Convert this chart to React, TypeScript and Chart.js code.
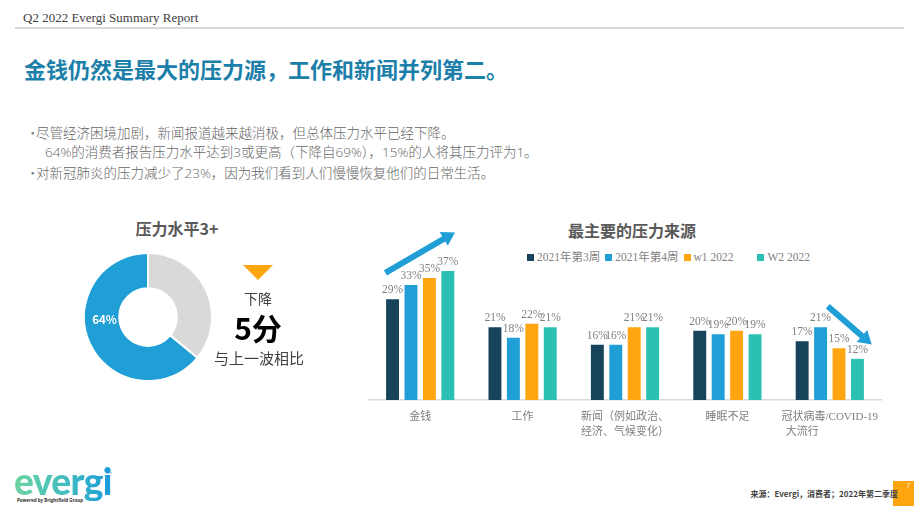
import React, { useEffect, useRef } from 'react';
import { Chart, registerables } from 'chart.js';

Chart.register(...registerables);

// ---------- data ----------
const categories: (string | string[])[] = [
  '金钱',
  '工作',
  ['新闻（例如政治、', '经济、气候变化）'],
  '睡眠不足',
  ['冠状病毒/COVID-19', '大流行　　　　　'],
];
const seriesNames = ['2021年第3周', '2021年第4周', 'w1 2022', 'W2 2022'];
const week3_2021 = [29, 21, 16, 20, 17];
const week4_2021 = [33, 18, 16, 19, 21];
const w1_2022 = [35, 22, 21, 20, 15];
const w2_2022 = [37, 21, 21, 19, 12];
const seriesValues = [week3_2021, week4_2021, w1_2022, w2_2022];
const seriesColors = ['#17435b', '#1f9fd6', '#ffa50f', '#2cc0b4'];

const donutLabels = ['其他', '压力水平3+'];
const donutValues = [36, 64];
const donutColors = ['#d9d9d9', '#1f9fd6'];

// trend arrows: x as fraction of category width from category centre, y in data units
const trendArrows = [
  { category: 0, from: [-0.34, 36.2], to: [0.34, 47.7] },
  { category: 4, from: [-0.02, 26.7], to: [0.41, 15.8] },
];

const bulletLines = [
  { dot: true, text: '尽管经济困境加剧，新闻报道越来越消极，但总体压力水平已经下降。' },
  { dot: false, text: '64%的消费者报告压力水平达到3或更高（下降自69%），15%的人将其压力评为1。' },
  { dot: true, text: '对新冠肺炎的压力减少了23%，因为我们看到人们慢慢恢复他们的日常生活。' },
];

const CJK = "'Noto Sans CJK SC', 'Noto Sans', sans-serif";
const SERIF_CJK = "'Liberation Serif', 'Noto Sans CJK SC', serif";
const BODY = "'Open Sans', 'Noto Sans CJK SC', sans-serif";

// ---------- plugins ----------
const barValueLabels = {
  id: 'barValueLabels',
  afterDatasetsDraw(chart: any) {
    const ctx = chart.ctx;
    ctx.save();
    ctx.font = `11.5px ${SERIF_CJK}`;
    ctx.fillStyle = '#808080';
    ctx.textAlign = 'center';
    ctx.textBaseline = 'alphabetic';
    chart.data.datasets.forEach((ds: any, di: number) => {
      const meta = chart.getDatasetMeta(di);
      meta.data.forEach((bar: any, i: number) => {
        ctx.fillText(ds.data[i] + '%', bar.x, bar.y - 5);
      });
    });
    ctx.restore();
  },
};

const trendArrowPlugin = {
  id: 'trendArrows',
  afterDatasetsDraw(chart: any) {
    const ctx = chart.ctx;
    const xs = chart.scales.x;
    const ys = chart.scales.y;
    const catW = xs.width / chart.data.labels.length;
    ctx.save();
    ctx.fillStyle = '#1f9fd6';
    trendArrows.forEach((a) => {
      const cx = xs.getPixelForValue(a.category);
      const x1 = cx + a.from[0] * catW;
      const y1 = ys.getPixelForValue(a.from[1]);
      const x2 = cx + a.to[0] * catW;
      const y2 = ys.getPixelForValue(a.to[1]);
      const ang = Math.atan2(y2 - y1, x2 - x1);
      const len = Math.hypot(x2 - x1, y2 - y1);
      const shaft = 3;
      const headL = 13;
      const headW = 8;
      ctx.save();
      ctx.translate(x1, y1);
      ctx.rotate(ang);
      ctx.beginPath();
      ctx.moveTo(0, -shaft);
      ctx.lineTo(len - headL, -shaft);
      ctx.lineTo(len - headL, -headW);
      ctx.lineTo(len, 0);
      ctx.lineTo(len - headL, headW);
      ctx.lineTo(len - headL, shaft);
      ctx.lineTo(0, shaft);
      ctx.closePath();
      ctx.fill();
      ctx.restore();
    });
    ctx.restore();
  },
};

const donutLabel = {
  id: 'donutLabel',
  afterDatasetsDraw(chart: any) {
    const ctx = chart.ctx;
    const arc = chart.getDatasetMeta(0).data[1];
    if (!arc) return;
    const r = (arc.innerRadius + arc.outerRadius) / 2;
    ctx.save();
    ctx.font = `bold 11.5px ${CJK}`;
    ctx.fillStyle = '#ffffff';
    ctx.textAlign = 'center';
    ctx.textBaseline = 'middle';
    ctx.fillText(donutValues[1] + '%', arc.x - r + 3, arc.y + 3);
    ctx.restore();
  },
};

// ---------- components ----------
function BarChart() {
  const ref = useRef<HTMLCanvasElement>(null);
  useEffect(() => {
    if (!ref.current) return;
    const chart = new Chart(ref.current, {
      type: 'bar',
      data: {
        labels: categories as any,
        datasets: seriesValues.map((vals, i) => ({
          label: seriesNames[i],
          data: vals,
          backgroundColor: seriesColors[i],
          borderColor: 'rgba(255,255,255,0.45)',
          borderWidth: 1,
          barPercentage: 0.81,
          categoryPercentage: 0.72,
        })),
      },
      options: {
        animation: false,
        responsive: false,
        maintainAspectRatio: false,
        layout: { padding: { top: 43, left: 14, right: 14, bottom: 4 } },
        plugins: {
          legend: { display: false },
          title: { display: false },
          tooltip: { enabled: false },
        },
        scales: {
          x: {
            grid: { display: false, drawTicks: false },
            border: { display: true, color: '#d9d9d9', width: 1.5 },
            ticks: {
              color: '#7f7f7f',
              font: { family: SERIF_CJK, size: 11, lineHeight: 1.36 },
              padding: 10,
              maxRotation: 0,
              autoSkip: false,
            },
          },
          y: { display: false, min: 0, max: 39 },
        },
      },
      plugins: [barValueLabels, trendArrowPlugin],
    });
    return () => chart.destroy();
  }, []);
  return (
    <canvas
      ref={ref}
      width={540}
      height={234}
      style={{ position: 'absolute', left: 355, top: 220, width: 540, height: 234 }}
    />
  );
}

function DonutChart() {
  const ref = useRef<HTMLCanvasElement>(null);
  useEffect(() => {
    if (!ref.current) return;
    const chart = new Chart(ref.current, {
      type: 'doughnut',
      data: {
        labels: donutLabels,
        datasets: [
          {
            data: donutValues,
            backgroundColor: donutColors,
            borderColor: '#ffffff',
            borderWidth: 2,
          },
        ],
      },
      options: {
        animation: false,
        responsive: false,
        maintainAspectRatio: false,
        cutout: '45%',
        rotation: 0,
        layout: { padding: 0 },
        plugins: { legend: { display: false }, tooltip: { enabled: false } },
      },
      plugins: [donutLabel],
    });
    return () => chart.destroy();
  }, []);
  return (
    <canvas
      ref={ref}
      width={130}
      height={130}
      style={{ position: 'absolute', left: 83, top: 252, width: 130, height: 130 }}
    />
  );
}

export default function App() {
  const abs = (s: React.CSSProperties): React.CSSProperties => ({ position: 'absolute', margin: 0, ...s });
  return (
    <div
      style={{
        position: 'fixed',
        left: 0,
        top: 0,
        width: 920,
        height: 518,
        background: '#ffffff',
        overflow: 'hidden',
        fontFamily: CJK,
      }}
    >
      {/* header */}
      <div
        style={abs({
          left: 23,
          top: 10,
          fontFamily: "'Liberation Serif', serif",
          fontSize: 13,
          color: '#404040',
          lineHeight: '16px',
          whiteSpace: 'nowrap',
        })}
      >
        Q2 2022 Evergi Summary Report
      </div>
      <div style={abs({ left: 15, top: 27, width: 889, height: 2, background: '#d9d9d9' })} />

      {/* title */}
      <div
        style={abs({
          left: 24,
          top: 54,
          fontSize: 22,
          fontWeight: 700,
          color: '#1c7faa',
          lineHeight: '28px',
          whiteSpace: 'nowrap',
        })}
      >
        金钱仍然是最大的压力源，工作和新闻并列第二。
      </div>

      {/* bullets */}
      <div style={abs({ left: 26, top: 122, fontFamily: BODY, fontSize: 13.5, color: '#666666' })}>
        {bulletLines.map((b, i) => (
          <div key={i} style={{ whiteSpace: 'nowrap', height: 20, lineHeight: '20px', fontWeight: 300 }}>
            <span style={{ display: 'inline-block', width: b.dot ? 10 : 19, color: '#7a7a7a', fontFamily: CJK }}>
              {b.dot ? '·' : ''}
            </span>
            {b.text}
          </div>
        ))}
      </div>

      {/* donut section */}
      <div
        style={abs({
          left: 77,
          width: 200,
          top: 217,
          textAlign: 'center',
          fontSize: 16,
          fontWeight: 700,
          color: '#595959',
          lineHeight: '22px',
        })}
      >
        压力水平3+
      </div>
      <DonutChart />
      <div
        style={abs({
          left: 243,
          top: 265,
          width: 0,
          height: 0,
          borderLeft: '15px solid transparent',
          borderRight: '15px solid transparent',
          borderTop: '15px solid #ffa50f',
        })}
      />
      <div style={abs({ left: 208, width: 100, top: 288, textAlign: 'center', fontSize: 14, color: '#404040', lineHeight: '20px' })}>
        下降
      </div>
      <div
        style={abs({ left: 208, width: 100, top: 308, textAlign: 'center', fontSize: 30, fontWeight: 700, color: '#000', lineHeight: '38px' })}
      >
        5分
      </div>
      <div style={abs({ left: 199, width: 120, top: 347, textAlign: 'center', fontSize: 15, color: '#404040', lineHeight: '22px' })}>
        与上一波相比
      </div>

      {/* bar chart section */}
      <div
        style={abs({
          left: 532,
          width: 200,
          top: 219,
          textAlign: 'center',
          fontSize: 16,
          fontWeight: 700,
          color: '#595959',
          lineHeight: '22px',
        })}
      >
        最主要的压力来源
      </div>
      <div
        style={abs({
          left: 527,
          top: 249,
          display: 'flex',
          alignItems: 'center',
          fontFamily: SERIF_CJK,
          fontSize: 11.5,
          color: '#7f7f7f',
          lineHeight: '16px',
          whiteSpace: 'nowrap',
        })}
      >
        {seriesNames.map((n, i) => (
          <div key={i} style={{ display: 'flex', alignItems: 'center', marginRight: i === 2 ? 24 : 5 }}>
            <span style={{ display: 'inline-block', width: 7, height: 7, background: seriesColors[i], marginRight: 3 }} />
            <span>{n}</span>
          </div>
        ))}
      </div>
      <BarChart />

      {/* logo */}
      <div
        style={abs({
          left: 14,
          top: 461,
          fontFamily: "'Lato', 'Noto Sans', sans-serif",
          fontWeight: 900,
          fontSize: 37,
          lineHeight: '40px',
          letterSpacing: -0.6,
          background: 'linear-gradient(90deg, #6dd3a0 0%, #3fbcc0 55%, #1b9bdc 100%)',
          WebkitBackgroundClip: 'text',
          backgroundClip: 'text',
          color: 'transparent',
          whiteSpace: 'nowrap',
        })}
      >
        evergi
      </div>
      <div style={abs({ left: 109, top: 471, fontSize: 4, color: '#1b9bdc', lineHeight: '5px' })}>™</div>
      <div
        style={abs({
          left: 17,
          top: 497,
          fontFamily: "'Noto Sans', sans-serif",
          fontSize: 4.5,
          fontWeight: 700,
          color: '#333',
          lineHeight: '6px',
          whiteSpace: 'nowrap',
        })}
      >
        Powered by Brightfield Group
      </div>

      {/* footer */}
      <div style={abs({ left: 893, top: 481, width: 21, height: 25, background: '#ffa50f' })}>
        <div style={{ position: 'absolute', right: 4, top: 1, fontSize: 6, color: '#fff', lineHeight: '8px' }}>7</div>
      </div>
      <div
        style={abs({
          right: 22,
          top: 488,
          fontSize: 8,
          fontWeight: 700,
          color: '#404040',
          lineHeight: '12px',
          whiteSpace: 'nowrap',
        })}
      >
        来源：Evergi，消费者；2022年第二季度
      </div>
    </div>
  );
}
